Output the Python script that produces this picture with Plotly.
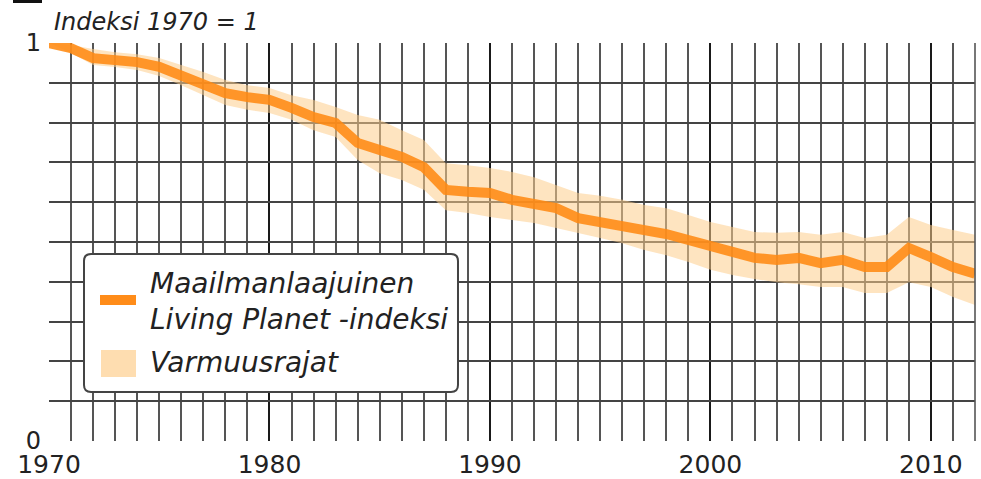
import plotly.graph_objects as go

years = list(range(1970, 2013))
lpi = [1.000, 0.987, 0.962, 0.960, 0.952, 0.940, 0.920, 0.899, 0.874, 0.864,
       0.857, 0.837, 0.814, 0.799, 0.749, 0.731, 0.714, 0.688, 0.631, 0.626,
       0.623, 0.606, 0.598, 0.585, 0.560, 0.550, 0.543, 0.530, 0.520, 0.505,
       0.487, 0.475, 0.460, 0.455, 0.460, 0.447, 0.455, 0.437, 0.437, 0.485,
       0.462, 0.437, 0.420]
upper = [1.000, 0.995, 0.985, 0.977, 0.972, 0.962, 0.945, 0.927, 0.907, 0.894,
         0.887, 0.869, 0.857, 0.839, 0.819, 0.807, 0.781, 0.756, 0.698, 0.693,
         0.686, 0.676, 0.663, 0.643, 0.623, 0.616, 0.606, 0.593, 0.585, 0.568,
         0.550, 0.538, 0.525, 0.523, 0.525, 0.518, 0.525, 0.510, 0.518, 0.563,
         0.543, 0.530, 0.518]
lower = [1.000, 0.975, 0.945, 0.940, 0.932, 0.917, 0.894, 0.869, 0.844, 0.832,
         0.824, 0.807, 0.781, 0.764, 0.706, 0.673, 0.656, 0.631, 0.580, 0.573,
         0.563, 0.555, 0.548, 0.535, 0.523, 0.510, 0.497, 0.480, 0.467, 0.450,
         0.430, 0.417, 0.407, 0.399, 0.394, 0.387, 0.387, 0.372, 0.372, 0.399,
         0.387, 0.362, 0.342]
x_ticks = [1970, 1980, 1990, 2000, 2010]
y_tickvals = [round(i * 0.1, 1) for i in range(11)]
y_ticktext = ["0"] + [""] * 9 + ["1"]

title_text = "Indeksi 1970 = 1"
legend_line = "Maailmanlaajuinen<br>Living Planet -indeksi"
legend_band = "Varmuusrajat"

FONT = "DejaVu Sans"
TXT = "#222222"
LINE_C = "rgba(255,138,18,0.88)"
BAND_C = "rgba(253,205,140,0.55)"

W, H = 981, 479
ML, MR, MT, MB = 49, 6, 43, 38
PW, PH = W - ML - MR, H - MT - MB


def px(x):
    return (x - ML) / PW


def py(y):
    return (H - MB - y) / PH


fig = go.Figure()
fig.add_trace(go.Scatter(x=years, y=upper, mode="lines", line=dict(width=0),
                         showlegend=False, hoverinfo="skip"))
fig.add_trace(go.Scatter(x=years, y=lower, mode="lines", line=dict(width=0),
                         fill="tonexty", fillcolor=BAND_C, showlegend=False,
                         hoverinfo="skip"))
fig.add_trace(go.Scatter(x=years, y=lpi, mode="lines",
                         line=dict(color=LINE_C, width=10), showlegend=False))

fig.update_layout(
    width=W, height=H,
    margin=dict(l=ML, r=MR, t=MT, b=MB),
    paper_bgcolor="white", plot_bgcolor="white",
    font=dict(family=FONT, color=TXT, size=26),
    showlegend=False,
    xaxis=dict(range=[1970, 2012], tickvals=x_ticks, automargin=False,
               showgrid=True, gridcolor="#1a1a1a", gridwidth=2,
               zeroline=False, showline=False, ticks="",
               ticklabelstandoff=6,
               tickfont=dict(size=25, color=TXT, family=FONT),
               minor=dict(tick0=1970, dtick=1, showgrid=True,
                          gridcolor="#555555", gridwidth=1.6)),
    yaxis=dict(range=[0, 1], tickvals=y_tickvals, ticktext=y_ticktext,
               automargin=False, ticklabelstandoff=7,
               showgrid=True, gridcolor="#444444", gridwidth=1.6,
               zeroline=False, showline=False, ticks="",
               tickfont=dict(size=24, color=TXT, family=FONT)),
)

# right border of plot area (2012 line)
fig.add_shape(type="line", xref="paper", yref="paper", x0=1, x1=1, y0=0, y1=1,
              line=dict(color="#555555", width=1.6))

# small black bar at top-left
fig.add_shape(type="rect", xref="paper", yref="paper",
              x0=px(13), x1=px(42), y0=py(3), y1=py(-2),
              fillcolor="#111111", line=dict(width=0))

fig.add_annotation(xref="paper", yref="paper", x=px(52), y=py(22),
                   xanchor="left", yanchor="middle", showarrow=False,
                   text="<i>" + title_text + "</i>",
                   font=dict(size=24, color=TXT, family=FONT))

# manual legend box with rounded corners
bx0, bx1, by0, by1, r = 84, 458, 254, 392, 7


def P(x, y):
    return f"{px(x):.5f},{py(y):.5f}"


path = (f"M {P(bx0 + r, by0)} L {P(bx1 - r, by0)} Q {P(bx1, by0)} {P(bx1, by0 + r)} "
        f"L {P(bx1, by1 - r)} Q {P(bx1, by1)} {P(bx1 - r, by1)} "
        f"L {P(bx0 + r, by1)} Q {P(bx0, by1)} {P(bx0, by1 - r)} "
        f"L {P(bx0, by0 + r)} Q {P(bx0, by0)} {P(bx0 + r, by0)} Z")
fig.add_shape(type="path", xref="paper", yref="paper", path=path,
              fillcolor="white", line=dict(color="#444444", width=2), layer="above")
fig.add_shape(type="line", xref="paper", yref="paper",
              x0=px(100), x1=px(136), y0=py(300), y1=py(300),
              line=dict(color="rgb(255,140,25)", width=10), layer="above")
fig.add_shape(type="rect", xref="paper", yref="paper",
              x0=px(101), x1=px(136), y0=py(377), y1=py(350),
              fillcolor="#FEDDB0", line=dict(width=0), layer="above")
fig.add_annotation(xref="paper", yref="paper", x=px(148), y=py(301),
                   xanchor="left", yanchor="middle", showarrow=False, align="left",
                   text="<i>" + legend_line + "</i>",
                   font=dict(size=28, color=TXT, family=FONT))
fig.add_annotation(xref="paper", yref="paper", x=px(148), y=py(362),
                   xanchor="left", yanchor="middle", showarrow=False, align="left",
                   text="<i>" + legend_band + "</i>",
                   font=dict(size=28, color=TXT, family=FONT))

fig.write_html("out.html", config={"displayModeBar": False},
               post_script="document.body.style.margin='0px';")
